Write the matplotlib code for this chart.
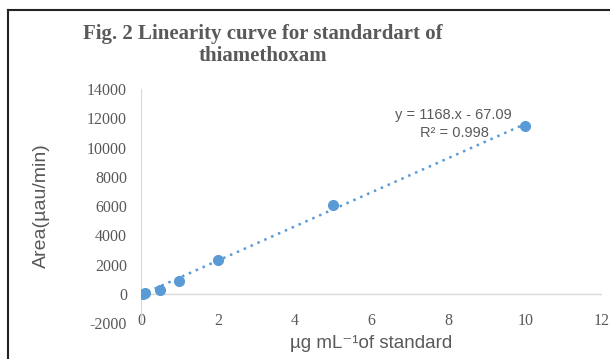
import numpy as np
import matplotlib.pyplot as plt

plt.rcParams['axes.unicode_minus'] = False

# concentration (ug/mL) vs peak area
conc = [0.05, 0.1, 0.5, 1, 2, 5, 10]
area = [0, 30, 280, 900, 2280, 6100, 11450]
slope = 1168.0
intercept = -67.09
xticks = [0, 2, 4, 6, 8, 10, 12]
yticks = [-2000, 0, 2000, 4000, 6000, 8000, 10000, 12000, 14000]

blue = '#5B9BD5'
grey = '#595959'

fig = plt.figure(figsize=(6.1, 3.59), dpi=100)
ax = fig.add_axes([0.231, 0.100, 0.756, 0.652])

xs = np.array([0, 10])
ax.plot(xs, slope * xs + intercept, linestyle=(0, (1, 2)), color=blue, lw=1.8)
ax.plot(conc, area, 'o', color=blue, markersize=7, zorder=3)

ax.set_xlim(0, 12)
ax.set_ylim(-2000, 14000)
ax.set_xticks(xticks)
ax.set_yticks(yticks)
ax.tick_params(length=0, labelsize=11.5, labelcolor=grey)
ax.tick_params(axis='y', pad=10)
ax.tick_params(axis='x', pad=-7)
for lab in ax.get_xticklabels() + ax.get_yticklabels():
    lab.set_family('Liberation Serif')

for s in ['top', 'right', 'bottom']:
    ax.spines[s].set_visible(False)
ax.spines['left'].set_color('#D9D9D9')
ax.axhline(0, color='#D9D9D9', lw=1, zorder=0)
ax.patch.set_alpha(0)

ax.set_ylabel('Area(µau/min)', family='Liberation Sans', fontsize=14, color=grey, labelpad=27)
ax.set_xlabel('µg mL⁻¹of standard', family=['Liberation Sans', 'DejaVu Sans'],
              fontsize=13.5, color=grey, labelpad=4)

fig.text(0.431, 0.875, 'Fig. 2 Linearity curve for standardart of\nthiamethoxam',
         family='Liberation Serif', fontweight='bold', fontsize=15, color=grey,
         ha='center', va='center', linespacing=1.1)

ax.text(6.6, 12220, 'y = 1168.x - 67.09', family='Liberation Sans', fontsize=10.5,
        color=grey, va='center')
ax.text(7.27, 10990, 'R² = 0.998', family='Liberation Sans', fontsize=10.5,
        color=grey, va='center')

# outer frame (left and top edges visible)
fig.add_artist(plt.Line2D([0.013, 0.013], [0, 0.972], color='#222222', lw=1.5, transform=fig.transFigure))
fig.add_artist(plt.Line2D([0.013, 1.0], [0.972, 0.972], color='#222222', lw=1.5, transform=fig.transFigure))

fig.savefig('out.png', dpi=100)
